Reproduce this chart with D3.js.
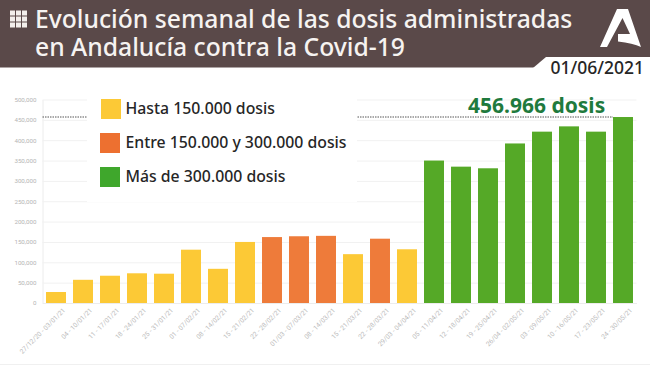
<!DOCTYPE html>
<html>
<head>
<meta charset="utf-8">
<script src="https://cdn.jsdelivr.net/npm/d3@7"></script>
<style>
  html, body { margin: 0; padding: 0; background: #fff; }
  svg { display: block; }
  text { font-family: "Noto Sans", sans-serif; }
</style>
</head>
<body>
<div id="chart"></div>
<script>
// Semanas, dosis y tramo de color
const semanas = ["27/12/20 - 03/01/21", "04 - 10/01/21", "11 - 17/01/21", "18 - 24/01/21", "25 - 31/01/21",
  "01 - 07/02/21", "08 - 14/02/21", "15 - 21/02/21", "22 - 28/02/21", "01/03 - 07/03/21", "08 - 14/03/21",
  "15 - 21/03/21", "22 - 28/03/21", "29/03 - 04/04/21", "05 - 11/04/21", "12 - 18/04/21", "19 - 25/04/21",
  "26/04 - 02/05/21", "03 - 09/05/21", "10 - 16/05/21", "17 - 23/05/21", "24 - 30/05/21"];
const dosis = [27000, 57000, 67000, 73000, 72000, 131000, 84000, 150000, 162000, 164000, 165000,
  120000, 158000, 132000, 350000, 335000, 331000, 392000, 421000, 434000, 421000, 456966];
const tramos = [0, 0, 0, 0, 0, 0, 0, 0, 1, 1, 1, 0, 1, 0, 2, 2, 2, 2, 2, 2, 2, 2];
const colores = ["#fcc936", "#ee7b3a", "#55a927"];
const leyenda = ["Hasta 150.000 dosis", "Entre 150.000 y 300.000 dosis", "Más de 300.000 dosis"];
const yTicks = [0, 50000, 100000, 150000, 200000, 250000, 300000, 350000, 400000, 450000, 500000];
const maximo = 456966;

const width = 650, height = 365;
const margin = { top: 99.5, right: 13.5, bottom: 62, left: 42.5 };

const svg = d3.select("#chart").append("svg")
  .attr("width", width)
  .attr("height", height);

const x = d3.scaleBand()
  .domain(semanas)
  .range([margin.left, width - margin.right])
  .paddingInner(0.26)
  .paddingOuter(0.13);
const y = d3.scaleLinear()
  .domain([0, 500000])
  .range([height - margin.bottom, margin.top]);

// Eje Y con rejilla
const yAxis = svg.append("g")
  .attr("transform", `translate(${margin.left},0)`)
  .call(d3.axisLeft(y).tickValues(yTicks).tickFormat(d3.format(",")).tickSize(0).tickPadding(6));
yAxis.select(".domain").attr("stroke", "#ececec");
yAxis.selectAll("text").attr("font-size", 6.2).attr("fill", "#b5b5b5").style("font-family", "Roboto, sans-serif");
yAxis.selectAll(".tick line")
  .attr("x2", width - margin.right - margin.left)
  .attr("stroke", "#f1f1f1");

// Eje X con etiquetas giradas
const xAxis = svg.append("g")
  .attr("transform", `translate(0,${height - margin.bottom})`)
  .call(d3.axisBottom(x).tickSize(0).tickPadding(9));
xAxis.select(".domain").attr("stroke", "#ececec");
xAxis.selectAll("text")
  .attr("font-size", 6.7)
  .attr("fill", "#bdbdbd")
  .attr("text-anchor", "end")
  .attr("dy", "0.3em")
  .attr("transform", "translate(2,0) rotate(-45)")
  .style("font-family", "Roboto, sans-serif");

// Barras
svg.append("g").selectAll("rect")
  .data(semanas)
  .enter().append("rect")
  .attr("x", d => x(d))
  .attr("width", x.bandwidth())
  .attr("y", (d, i) => y(dosis[i]))
  .attr("height", (d, i) => y(0) - y(dosis[i]))
  .attr("fill", (d, i) => colores[tramos[i]]);

// Línea del máximo
svg.append("line")
  .attr("x1", margin.left).attr("x2", x(semanas[21]))
  .attr("y1", y(maximo)).attr("y2", y(maximo))
  .attr("stroke", "#555").attr("stroke-width", 1).attr("stroke-dasharray", "1.5 1");

// Caja blanca de la leyenda, tapa rejilla y línea
svg.append("rect").attr("x", 87).attr("y", 94).attr("width", 270).attr("height", 108).attr("fill", "#fff");
const filaLeyenda = d3.scalePoint().domain(leyenda).range([109, 177]);
leyenda.forEach((t, i) => {
  svg.append("rect")
    .attr("x", i === 0 ? 101 : 100).attr("y", filaLeyenda(t) - 10)
    .attr("width", 20).attr("height", 20)
    .attr("fill", i === 0 ? colores[0] : i === 1 ? "#ed7030" : "#3fa72c");
  svg.append("text")
    .attr("x", 125.5).attr("y", filaLeyenda(t) + 5)
    .attr("font-size", 15.8).attr("font-weight", 500).attr("fill", "#262626")
    .text(t);
});

// Etiqueta del máximo
svg.append("text")
  .attr("x", 468).attr("y", 113)
  .attr("font-size", 21).attr("font-weight", 700).attr("fill", "#1f7a3d")
  .text("456.966 dosis");

// Cabecera
svg.append("rect").attr("width", width).attr("height", 67.5).attr("fill", "#5a4949");
svg.append("path").attr("d", "M533,68 L546,57 L650,57 L650,68 Z").attr("fill", "#fff");
svg.append("text").attr("x", 550.5).attr("y", 74)
  .attr("font-size", 17.5).attr("font-weight", 500).attr("fill", "#262626").text("01/06/2021");

const titulo = ["Evolución semanal de las dosis administradas", "en Andalucía contra la Covid-19"];
titulo.forEach((t, i) => {
  svg.append("text")
    .attr("x", 35).attr("y", 27.5 + i * 28.5)
    .attr("font-size", 24.7).attr("font-weight", 500).attr("fill", "#f6f3f1")
    .text(t);
});

// Icono de cuadrícula
d3.range(9).forEach(i => {
  svg.append("rect")
    .attr("x", 10 + (i % 3) * 6).attr("y", 10.5 + Math.floor(i / 3) * 6)
    .attr("width", 5).attr("height", 5)
    .attr("fill", "#f3efec");
});

// Logo de la Junta
svg.append("path")
  .attr("d", "M617,9 L628,9 L641,47 Q633,43 618,41.5 L618,34 L630,34 L622.5,18 L607,47 L600,47 Z")
  .attr("fill", "#fff");

// Franja inferior
svg.append("rect").attr("y", 364).attr("width", width).attr("height", 1).attr("fill", "#f0f0f0");
</script>
</body>
</html>
